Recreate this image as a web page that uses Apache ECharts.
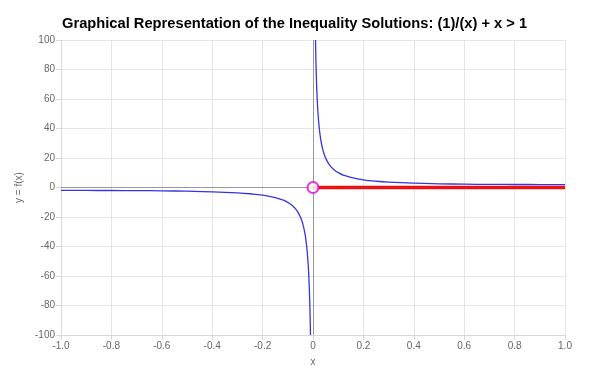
<!DOCTYPE html>
<html>
<head>
<meta charset="utf-8">
<script src="https://cdn.jsdelivr.net/npm/echarts@6/dist/echarts.min.js"></script>
<style>html,body{margin:0;padding:0;background:#fff}#c{width:600px;height:380px}</style>
</head>
<body>
<div id="c"></div>
<script>
// Values
var titleText = "Graphical Representation of the Inequality Solutions: (1)/(x) + x > 1";
var xTicks = [-1.0, -0.8, -0.6, -0.4, -0.2, 0, 0.2, 0.4, 0.6, 0.8, 1.0];
var yTicks = [-100, -80, -60, -40, -20, 0, 20, 40, 60, 80, 100];

// left branch of f(x) (x < 0)
var leftX = [-1, -0.9, -0.8, -0.7, -0.6, -0.5, -0.4, -0.3, -0.25, -0.2, -0.15, -0.12, -0.1, -0.09, -0.08, -0.07, -0.06, -0.05, -0.045, -0.04, -0.035, -0.03, -0.025, -0.02, -0.018, -0.015, -0.0125, -0.011, -0.01];
var leftY = [-2.0, -2.01, -2.05, -2.13, -2.27, -2.5, -2.9, -3.63, -4.25, -5.2, -6.82, -8.45, -10.1, -11.2, -12.58, -14.36, -16.73, -20.05, -22.27, -25.04, -28.61, -33.36, -40.03, -50.02, -55.57, -66.68, -80.01, -90.92, -100.01];

// right branch of f(x) (x > 0)
var rightX = [0.01, 0.011, 0.0125, 0.015, 0.018, 0.02, 0.025, 0.03, 0.035, 0.04, 0.045, 0.05, 0.06, 0.07, 0.08, 0.09, 0.1, 0.12, 0.15, 0.2, 0.25, 0.3, 0.4, 0.5, 0.6, 0.7, 0.8, 0.9, 1];
var rightY = [100.01, 90.92, 80.01, 66.68, 55.57, 50.02, 40.03, 33.36, 28.61, 25.04, 22.27, 20.05, 16.73, 14.36, 12.58, 11.2, 10.1, 8.45, 6.82, 5.2, 4.25, 3.63, 2.9, 2.5, 2.27, 2.13, 2.05, 2.01, 2.0];

// solution set highlight: x in (0, 1]
var solX = [0, 1];
var solY = [0, 0];
// excluded point
var openPoint = [0, 0];

function pairs(xs, ys) { return xs.map(function (x, i) { return [x, ys[i]]; }); }

var chart = echarts.init(document.getElementById('c'), null, {renderer: 'canvas'});
var font = 'Arial, "Liberation Sans", sans-serif';
chart.setOption({
  animation: false,
  title: {
    text: titleText, left: 57, top: 11,
    textStyle: {fontFamily: font, fontSize: 14.7, fontWeight: 'bold', color: '#000'}
  },
  grid: {left: 61, right: 35, top: 40, bottom: 45, containLabel: false},
  xAxis: {
    type: 'value', min: -1, max: 1, interval: 0.2,
    name: 'x', nameLocation: 'middle', nameGap: 22,
    nameTextStyle: {fontFamily: font, fontSize: 10, color: '#666'},
    axisLine: {show: true, onZero: false, lineStyle: {color: '#d8d8d8'}},
    axisTick: {show: true, length: 5, lineStyle: {color: '#d8d8d8'}},
    splitLine: {show: true, lineStyle: {color: '#e6e6e6'}},
    axisLabel: {fontFamily: font, fontSize: 10, color: '#666', margin: 6,
      formatter: function (v) { var r = Math.round(v * 10) / 10; return r === 0 ? '0' : r.toFixed(1); }}
  },
  yAxis: {
    type: 'value', min: -100, max: 100, interval: 20,
    name: 'y = f(x)', nameLocation: 'middle', nameGap: 33,
    nameTextStyle: {fontFamily: font, fontSize: 10, color: '#666'},
    axisLine: {show: true, onZero: false, lineStyle: {color: '#d8d8d8'}},
    axisTick: {show: true, length: 5, lineStyle: {color: '#d8d8d8'}},
    splitLine: {show: true, lineStyle: {color: '#e6e6e6'}},
    axisLabel: {fontFamily: font, fontSize: 10, color: '#666', margin: 6}
  },
  series: [
    {
      type: 'line', data: [], z: 1,
      markLine: {
        silent: true, symbol: 'none', label: {show: false}, z: 1,
        lineStyle: {color: '#999', type: 'solid', width: 1},
        data: [{xAxis: 0}, {yAxis: 0}]
      }
    },
    {
      type: 'line', data: pairs(leftX, leftY), smooth: true, showSymbol: false, z: 3,
      lineStyle: {color: '#3535dd', width: 1.3}
    },
    {
      type: 'line', data: pairs(rightX, rightY), smooth: true, showSymbol: false, z: 3,
      lineStyle: {color: '#3535dd', width: 1.3}
    },
    {
      type: 'line', data: pairs(solX, solY), showSymbol: false, z: 4,
      lineStyle: {color: '#ee1111', width: 3.5}
    },
    {
      type: 'scatter', data: [openPoint], symbol: 'circle', symbolSize: 11, z: 5,
      itemStyle: {color: '#ffffff', borderColor: '#dd00dd', borderWidth: 2}
    }
  ]
});
</script>
</body>
</html>
